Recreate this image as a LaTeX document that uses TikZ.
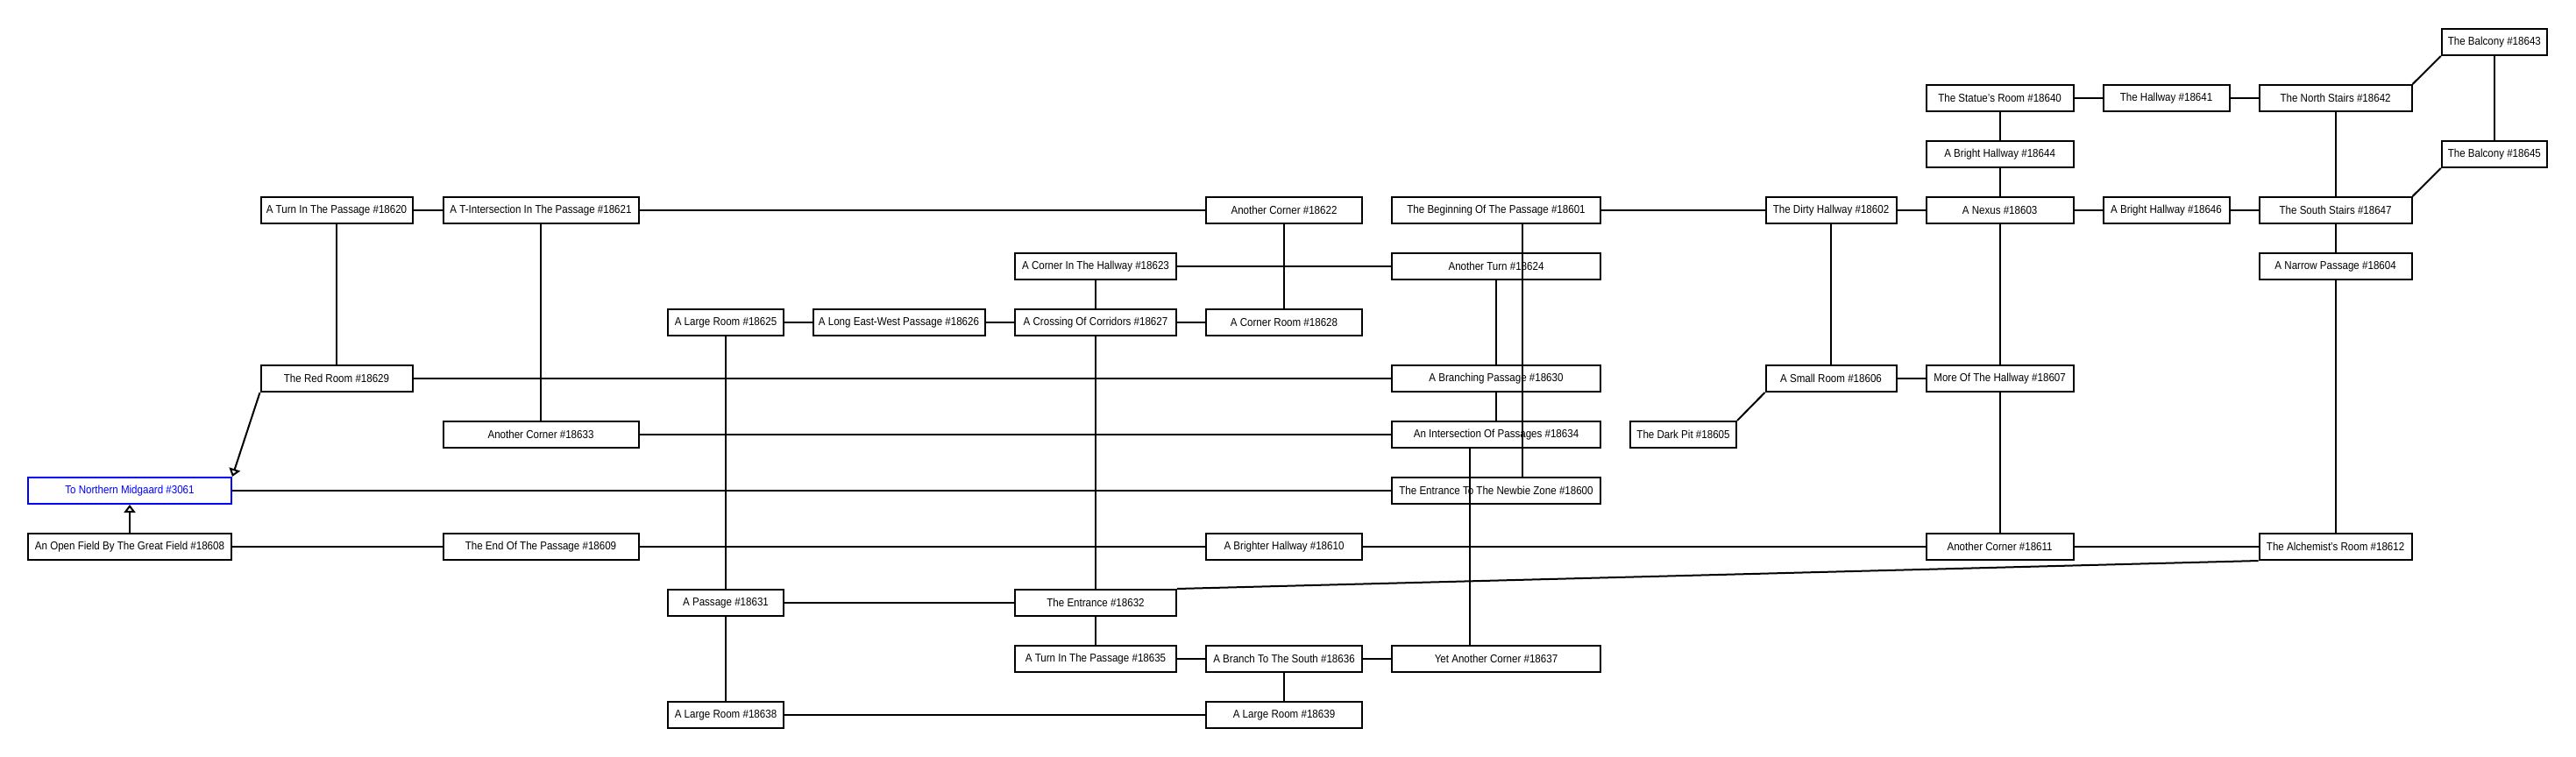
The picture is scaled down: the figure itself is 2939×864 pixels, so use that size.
\documentclass[tikz,border=0pt]{standalone}
\usepackage{fontspec}
\setmainfont{Liberation Sans}[FakeStretch=0.89]
\usetikzlibrary{arrows.meta}

\tikzset{
  room/.style={draw, line width=2bp, minimum height=30bp, inner sep=0pt,
    font=\fontsize{13bp}{15bp}\selectfont},
  zone/.style={room, draw=blue, text=blue},
  link/.style={line width=2bp},
  exitlink/.style={link, -{Triangle[open, length=9bp, width=13bp]}}
}

\begin{document}
\begin{tikzpicture}[x=1bp, y=-1bp]
\useasboundingbox (0,0) rectangle (2939,864);

% top rows
\node [room, minimum width=120bp] (r18643) at (2845.8,48) {The Balcony \#18643};
\node [room, minimum width=168bp] (r18640) at (2281.6,112) {The Statue's Room \#18640};
\node [room, minimum width=144bp] (r18641) at (2471.5,112) {The Hallway \#18641};
\node [room, minimum width=174bp] (r18642) at (2664.6,112) {The North Stairs \#18642};
\node [room, minimum width=168bp] (r18644) at (2281.6,176) {A Bright Hallway \#18644};
\node [room, minimum width=120bp] (r18645) at (2845.8,176) {The Balcony \#18645};

\node [room, minimum width=173bp] (r18620) at (384,240) {A Turn In The Passage \#18620};
\node [room, minimum width=223bp] (r18621) at (617,240) {A T-Intersection In The Passage \#18621};
\node [room, minimum width=178bp] (r18622) at (1465,240) {Another Corner \#18622};
\node [room, minimum width=238bp] (r18601) at (1707,240) {The Beginning Of The Passage \#18601};
\node [room, minimum width=149bp] (r18602) at (2089,240) {The Dirty Hallway \#18602};
\node [room, minimum width=168bp] (r18603) at (2281.6,240) {A Nexus \#18603};
\node [room, minimum width=144bp] (r18646) at (2471.5,240) {A Bright Hallway \#18646};
\node [room, minimum width=174bp] (r18647) at (2664.6,240) {The South Stairs \#18647};

\node [room, minimum width=184bp] (r18623) at (1250,304) {A Corner In The Hallway \#18623};
\node [room, minimum width=238bp] (r18624) at (1707,304) {Another Turn \#18624};
\node [room, minimum width=174bp] (r18604) at (2664.6,304) {A Narrow Passage \#18604};

\node [room, minimum width=132bp] (r18625) at (828,368) {A Large Room \#18625};
\node [room, minimum width=196bp] (r18626) at (1025.5,368) {A Long East-West Passage \#18626};
\node [room, minimum width=184bp] (r18627) at (1250,368) {A Crossing Of Corridors \#18627};
\node [room, minimum width=178bp] (r18628) at (1465,368) {A Corner Room \#18628};

% middle rows
\node [room, minimum width=173bp] (r18629) at (384,432) {The Red Room \#18629};
\node [room, minimum width=238bp] (r18630) at (1707,432) {A Branching Passage \#18630};
\node [room, minimum width=149bp] (r18606) at (2089,432) {A Small Room \#18606};
\node [room, minimum width=168bp] (r18607) at (2281.6,432) {More Of The Hallway \#18607};

\node [room, minimum width=223bp] (r18633) at (617,496) {Another Corner \#18633};
\node [room, minimum width=238bp] (r18634) at (1707,496) {An Intersection Of Passages \#18634};
\node [room, minimum width=121bp] (r18605) at (1920.5,496) {The Dark Pit \#18605};

\node [zone, minimum width=232bp] (r3061) at (148,560) {To Northern Midgaard \#3061};
\node [room, minimum width=238bp] (r18600) at (1707,560) {The Entrance To The Newbie Zone \#18600};

\node [room, minimum width=232bp] (r18608) at (148,624) {An Open Field By The Great Field \#18608};
\node [room, minimum width=223bp] (r18609) at (617,624) {The End Of The Passage \#18609};
\node [room, minimum width=178bp] (r18610) at (1465,624) {A Brighter Hallway \#18610};
\node [room, minimum width=168bp] (r18611) at (2281.6,624) {Another Corner \#18611};
\node [room, minimum width=174bp] (r18612) at (2664.6,624) {The Alchemist's Room \#18612};

% bottom rows
\node [room, minimum width=132bp] (r18631) at (828,688) {A Passage \#18631};
\node [room, minimum width=184bp] (r18632) at (1250,688) {The Entrance \#18632};

\node [room, minimum width=184bp] (r18635) at (1250,752) {A Turn In The Passage \#18635};
\node [room, minimum width=178bp] (r18636) at (1465,752) {A Branch To The South \#18636};
\node [room, minimum width=238bp] (r18637) at (1707,752) {Yet Another Corner \#18637};

\node [room, minimum width=132bp] (r18638) at (828,816) {A Large Room \#18638};
\node [room, minimum width=178bp] (r18639) at (1465,816) {A Large Room \#18639};

% links
\draw [link] (r18640) -- (r18641);
\draw [link] (r18641) -- (r18642);
\draw [link] (r18642.north east) -- (r18643.south west);
\draw [link] (r18643) -- (r18645);
\draw [link] (r18640) -- (r18644);
\draw [link] (r18644) -- (r18603);
\draw [link] (r18642) -- (r18647);
\draw [link] (r18647.north east) -- (r18645.south west);

\draw [link] (r18620) -- (r18621);
\draw [link] (r18621) -- (r18622);
\draw [link] (r18601) -- (r18602);
\draw [link] (r18602) -- (r18603);
\draw [link] (r18603) -- (r18646);
\draw [link] (r18646) -- (r18647);
\draw [link] (r18620) -- (r18629);
\draw [link] (r18621) -- (r18633);
\draw [link] (r18622) -- (r18628);
\draw [link] ([xshift=30bp]r18601.south) -- ([xshift=30bp]r18600.north);
\draw [link] (r18602) -- (r18606);
\draw [link] (r18603) -- (r18607);
\draw [link] (r18647) -- (r18604);
\draw [link] (r18604) -- (r18612);

\draw [link] (r18623) -- (r18624);
\draw [link] (r18623) -- (r18627);
\draw [link] (r18624) -- (r18630);

\draw [link] (r18625) -- (r18626);
\draw [link] (r18626) -- (r18627);
\draw [link] (r18627) -- (r18628);
\draw [link] (r18625) -- (r18631);
\draw [link] (r18627) -- (r18632);

\draw [link] (r18629) -- (r18630);
\draw [link] (r18606) -- (r18607);
\draw [link] (r18630) -- (r18634);
\draw [link] (r18607) -- (r18611);
\draw [link] (r18606.south west) -- (r18605.north east);

\draw [link] (r18633) -- (r18634);
\draw [link] ([xshift=-30bp]r18634.south) -- ([xshift=-30bp]r18637.north);

\draw [link] (r3061) -- (r18600);
\draw [exitlink] (r18629.south west) -- (r3061.north east);
\draw [exitlink] (r18608) -- (r3061);

\draw [link] (r18608) -- (r18609);
\draw [link] (r18609) -- (r18610);
\draw [link] (r18610) -- (r18611);
\draw [link] (r18611) -- (r18612);
\draw [link] (r18632.north east) -- (r18612.south west);

\draw [link] (r18631) -- (r18632);
\draw [link] (r18632) -- (r18635);
\draw [link] (r18631) -- (r18638);

\draw [link] (r18635) -- (r18636);
\draw [link] (r18636) -- (r18637);
\draw [link] (r18636) -- (r18639);

\draw [link] (r18638) -- (r18639);
\end{tikzpicture}
\end{document}
